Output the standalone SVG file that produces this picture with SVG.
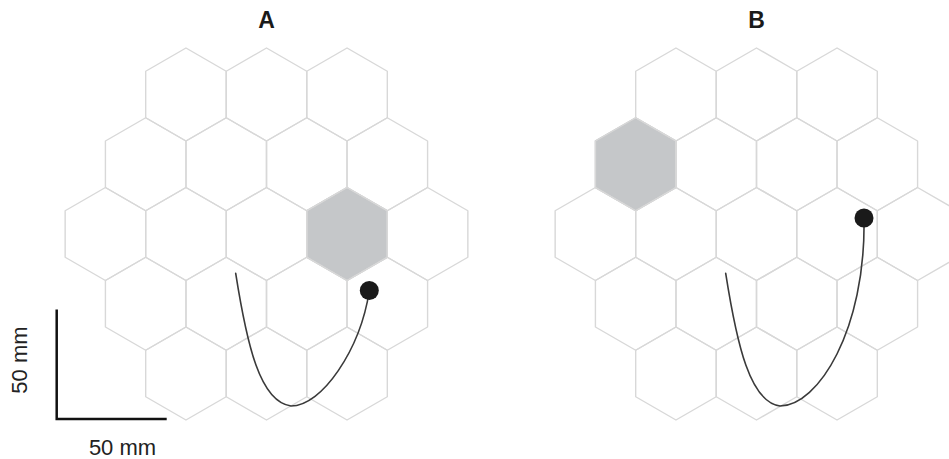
<svg xmlns="http://www.w3.org/2000/svg" xmlns:xlink="http://www.w3.org/1999/xlink" width="949" height="459" viewBox="0 0 949 459">
<defs>
<polygon id="hex" points="0,-46.5 40.27,-23.25 40.27,23.25 0,46.5 -40.27,23.25 -40.27,-23.25"/>
</defs>
<style>
.cell{fill:none;stroke:#d8d8d8;stroke-width:1.4;stroke-linejoin:round}
.shade{fill:#c5c7c9;stroke:#c5c7c9;stroke-width:1.4}
.title{font-family:"Liberation Sans",Arial,sans-serif;font-weight:bold;font-size:23px;fill:#1a1a1a;text-anchor:middle}
.lbl{font-family:"Liberation Sans",Arial,sans-serif;font-size:22px;fill:#222;text-anchor:middle}
.cable{fill:none;stroke:#3a3a3a;stroke-width:1.6;stroke-linecap:round}
.dot{fill:#1a1a1a}
.bar{fill:none;stroke:#111;stroke-width:2.5}
</style>
<rect width="949" height="459" fill="#ffffff"/>
<g id="panelA">
<text class="title" x="266.5" y="28">A</text>
<g id="A-shaded"><use href="#hex" class="shade" x="347.04" y="234"/></g>
<g id="A-cells">
<use href="#hex" class="cell" x="185.96" y="94.5"/>
<use href="#hex" class="cell" x="266.5" y="94.5"/>
<use href="#hex" class="cell" x="347.04" y="94.5"/>
<use href="#hex" class="cell" x="145.69" y="164.25"/>
<use href="#hex" class="cell" x="226.23" y="164.25"/>
<use href="#hex" class="cell" x="306.77" y="164.25"/>
<use href="#hex" class="cell" x="387.31" y="164.25"/>
<use href="#hex" class="cell" x="105.42" y="234"/>
<use href="#hex" class="cell" x="185.96" y="234"/>
<use href="#hex" class="cell" x="266.5" y="234"/>
<use href="#hex" class="cell" x="347.04" y="234"/>
<use href="#hex" class="cell" x="427.58" y="234"/>
<use href="#hex" class="cell" x="145.69" y="303.75"/>
<use href="#hex" class="cell" x="226.23" y="303.75"/>
<use href="#hex" class="cell" x="306.77" y="303.75"/>
<use href="#hex" class="cell" x="387.31" y="303.75"/>
<use href="#hex" class="cell" x="185.96" y="373.5"/>
<use href="#hex" class="cell" x="266.5" y="373.5"/>
<use href="#hex" class="cell" x="347.04" y="373.5"/>
</g>
</g>
<g id="panelB">
<text class="title" x="756.5" y="28">B</text>
<g id="B-shaded"><use href="#hex" class="shade" x="635.69" y="164.25"/></g>
<g id="B-cells">
<use href="#hex" class="cell" x="675.96" y="94.5"/>
<use href="#hex" class="cell" x="756.5" y="94.5"/>
<use href="#hex" class="cell" x="837.04" y="94.5"/>
<use href="#hex" class="cell" x="635.69" y="164.25"/>
<use href="#hex" class="cell" x="716.23" y="164.25"/>
<use href="#hex" class="cell" x="796.77" y="164.25"/>
<use href="#hex" class="cell" x="877.31" y="164.25"/>
<use href="#hex" class="cell" x="595.42" y="234"/>
<use href="#hex" class="cell" x="675.96" y="234"/>
<use href="#hex" class="cell" x="756.5" y="234"/>
<use href="#hex" class="cell" x="837.04" y="234"/>
<use href="#hex" class="cell" x="917.58" y="234"/>
<use href="#hex" class="cell" x="635.69" y="303.75"/>
<use href="#hex" class="cell" x="716.23" y="303.75"/>
<use href="#hex" class="cell" x="796.77" y="303.75"/>
<use href="#hex" class="cell" x="877.31" y="303.75"/>
<use href="#hex" class="cell" x="675.96" y="373.5"/>
<use href="#hex" class="cell" x="756.5" y="373.5"/>
<use href="#hex" class="cell" x="837.04" y="373.5"/>
</g>
</g>
<g id="connectors">
<path class="cable" d="M235.7,273.3 C247,345 260,402 291,406 C322,406 360,350 369.3,291"/>
<path class="cable" d="M725.7,273.3 C737,345 750,402 780,406 C818,406 866,330 864,218"/>
</g>
<g id="sensorA"><circle class="dot" cx="369.3" cy="290.5" r="9.5"/></g>
<g id="sensorB"><circle class="dot" cx="864" cy="218" r="9.5"/></g>
<g id="scalebar">
<path class="bar" d="M56.7,309.5 V419 H166.7"/>
<text class="lbl" x="122.5" y="455">50 mm</text>
<text class="lbl" transform="translate(27,360) rotate(-90)" x="0" y="0">50 mm</text>
</g>
</svg>
